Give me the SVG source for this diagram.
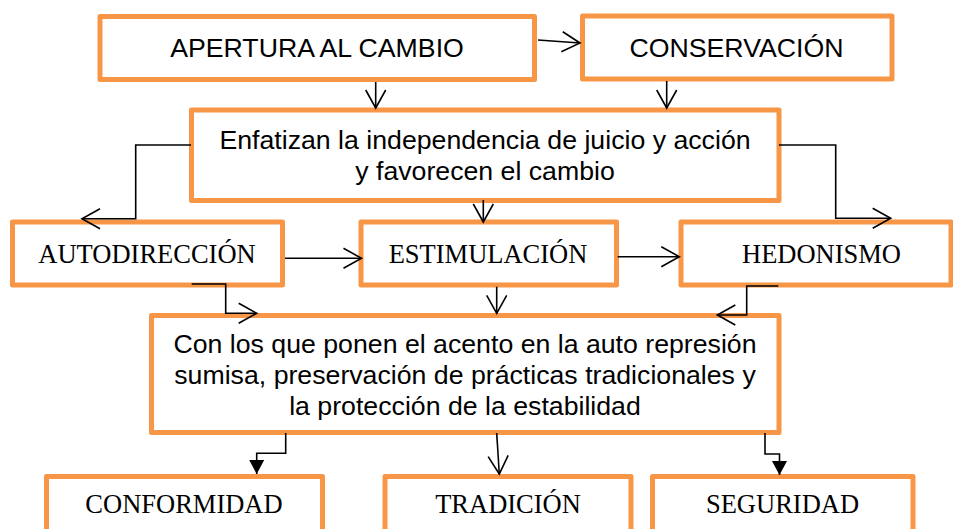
<svg xmlns="http://www.w3.org/2000/svg" width="953" height="529" viewBox="0 0 953 529">
<style>
.box{fill:#fff;stroke:#F79646;stroke-width:5;stroke-linejoin:round}
.sans{font-family:"Liberation Sans",Arial,sans-serif;font-size:26.7px;fill:#000;text-anchor:middle}
.serif{font-family:"Liberation Serif","Times New Roman",serif;font-size:26.5px;fill:#000;text-anchor:middle}
.c{fill:none;stroke:#000;stroke-width:1.6}
.o{marker-end:url(#open)}
.f{marker-end:url(#filled)}
</style>
<defs>
<marker id="open" markerUnits="userSpaceOnUse" markerWidth="24" markerHeight="24" viewBox="0 0 24 24" refX="20" refY="12" orient="auto">
<path d="M2,2 L20,12 L2,22" fill="none" stroke="#000" stroke-width="1.6"/>
</marker>
<marker id="filled" markerUnits="userSpaceOnUse" markerWidth="18" markerHeight="18" viewBox="0 0 18 18" refX="15" refY="9" orient="auto">
<path d="M1,1.5 L15,9 L1,16.5 Z" fill="#000"/>
</marker>
</defs>
<rect width="953" height="529" fill="#fff"/>
<g id="apertura">
<rect class="box" x="100" y="16.5" width="434.5" height="63"/>
<text class="sans" x="317" y="57">APERTURA AL CAMBIO</text>
</g>
<g id="conservacion">
<rect class="box" x="582.5" y="16" width="309.5" height="63"/>
<text class="sans" x="736.5" y="57">CONSERVACIÓN</text>
</g>
<g id="enfatizan">
<rect class="box" x="191.5" y="110" width="587.5" height="90.5"/>
<text class="sans" x="485" y="149">Enfatizan la independencia de juicio y acción</text>
<text class="sans" x="485" y="180">y favorecen el cambio</text>
</g>
<g id="autodireccion">
<rect class="box" x="12.5" y="222" width="270" height="63"/>
<text class="serif" x="147" y="263">AUTODIRECCIÓN</text>
</g>
<g id="estimulacion">
<rect class="box" x="361" y="222" width="255.5" height="63"/>
<text class="serif" x="488" y="263">ESTIMULACIÓN</text>
</g>
<g id="hedonismo">
<rect class="box" x="681" y="222" width="270" height="63"/>
<text class="serif" x="821.5" y="263">HEDONISMO</text>
</g>
<g id="con-los-que">
<rect class="box" x="151.5" y="315.5" width="627.5" height="117"/>
<text class="sans" x="465" y="353">Con los que ponen el acento en la auto represión</text>
<text class="sans" x="465" y="384">sumisa, preservación de prácticas tradicionales y</text>
<text class="sans" x="465" y="415">la protección de la estabilidad</text>
</g>
<g id="conformidad">
<rect class="box" x="46.5" y="476.5" width="276" height="70"/>
<text class="serif" x="184" y="513">CONFORMIDAD</text>
</g>
<g id="tradicion">
<rect class="box" x="385" y="476.5" width="246" height="70"/>
<text class="serif" x="508" y="513">TRADICIÓN</text>
</g>
<g id="seguridad">
<rect class="box" x="652.5" y="476.5" width="260.5" height="70"/>
<text class="serif" x="782.5" y="513">SEGURIDAD</text>
</g>
<g id="connectors">
<path class="c o" d="M538,40 L580,43"/>
<path class="c o" d="M375.7,82 L375.7,108"/>
<path class="c o" d="M666.7,81 L666.7,108"/>
<path class="c o" d="M191,145 L135.7,145 L135.7,218.7 L82,218.7"/>
<path class="c o" d="M779,145 L835.7,145 L835.7,218.3 L890.7,218.3"/>
<path class="c o" d="M483.3,200 L483.3,222"/>
<path class="c o" d="M285,258.3 L361.5,258.3"/>
<path class="c o" d="M617.7,256.7 L679.3,256.7"/>
<path class="c o" d="M191.7,284 L225.7,284 L225.7,313.3 L256.7,313.3"/>
<path class="c o" d="M496.7,286.7 L496.7,313.3"/>
<path class="c o" d="M778.3,286 L746.7,286 L746.7,315 L717.3,315"/>
<path class="c f" d="M285.7,433 L285.7,453.3 L256.7,453.3 L256.7,474"/>
<path class="c o" d="M496.7,433 L499.3,474"/>
<path class="c f" d="M765,433 L765,454 L779.5,454 L779.5,475"/>
</g>
</svg>
